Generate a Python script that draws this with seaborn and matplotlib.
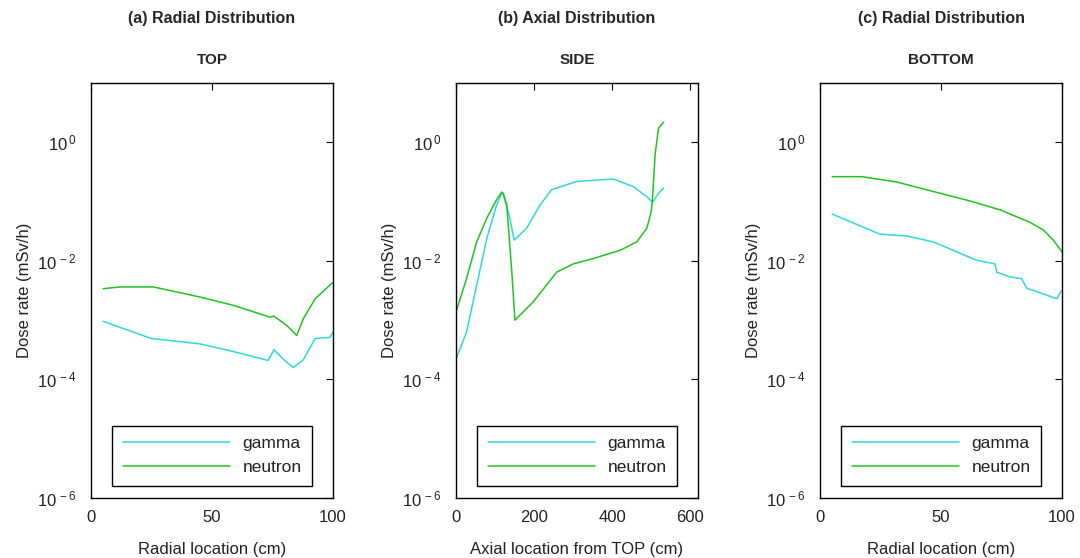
import numpy as np
import pandas as pd
import matplotlib
matplotlib.use("Agg")
import matplotlib.pyplot as plt
import seaborn as sns
from matplotlib.ticker import NullLocator, FixedLocator, FuncFormatter

sns.set_style("white")
plt.rcParams['font.family'] = ['Liberation Sans', 'DejaVu Sans']

# ---------------- data (log10 of dose rate) ----------------
top_gamma_x = [5, 25, 45, 58.8, 73.2, 75.6, 79.5, 83.6, 87.7, 92.6, 98.8, 100]
top_gamma_log = [-3.02, -3.31, -3.40, -3.53, -3.68, -3.50, -3.66, -3.80, -3.67, -3.31, -3.29, -3.20]
top_neutron_x = [5, 12, 25.8, 45, 58.8, 74, 75.5, 80.9, 85, 87.7, 92.6, 99.5, 100]
top_neutron_log = [-2.47, -2.44, -2.44, -2.61, -2.75, -2.95, -2.93, -3.09, -3.26, -2.98, -2.64, -2.38, -2.37]

side_gamma_x = [0, 27, 53, 79, 104, 117, 121, 138, 149, 181, 215, 245, 309, 403, 455, 489, 504, 519, 532]
side_gamma_log = [-3.66, -3.20, -2.41, -1.62, -1.06, -0.86, -0.87, -1.28, -1.65, -1.45, -1.06, -0.80, -0.66, -0.62, -0.75, -0.92, -1.01, -0.86, -0.77]
side_neutron_x = [0, 27, 53, 79, 104, 117, 121, 130, 143, 151, 198, 258, 301, 352, 421, 463, 489, 500, 503, 510, 519, 532]
side_neutron_log = [-2.86, -2.30, -1.68, -1.28, -0.97, -0.84, -0.86, -1.06, -2.19, -3.00, -2.69, -2.19, -2.05, -1.96, -1.82, -1.68, -1.45, -1.17, -1.00, -0.21, 0.24, 0.34]

bot_gamma_x = [5, 24.8, 35.8, 46.8, 64.7, 72.3, 73, 78.5, 83.3, 85.4, 90.9, 97.8, 99.5, 100]
bot_gamma_log = [-1.21, -1.55, -1.58, -1.68, -1.99, -2.05, -2.19, -2.27, -2.30, -2.46, -2.54, -2.64, -2.52, -2.50]
bot_neutron_x = [5, 17.2, 31.7, 46.8, 62, 74.4, 86.8, 92.3, 96.4, 99.5, 100]
bot_neutron_log = [-0.58, -0.58, -0.67, -0.83, -0.99, -1.14, -1.35, -1.48, -1.65, -1.82, -1.85]

titles1 = ["(a) Radial Distribution", "(b) Axial Distribution", "(c) Radial Distribution"]
titles2 = ["TOP", "SIDE", "BOTTOM"]
xlabels = ["Radial location (cm)", "Axial location from TOP (cm)", "Radial location (cm)"]
xticks = [[0, 50, 100], [0, 200, 400, 600], [0, 50, 100]]
xlim_list = [(0, 100), (0, 620), (0, 100)]
ytick_vals = [1e-6, 1e-4, 1e-2, 1e0]

panels = [
    (top_gamma_x, top_gamma_log, top_neutron_x, top_neutron_log),
    (side_gamma_x, side_gamma_log, side_neutron_x, side_neutron_log),
    (bot_gamma_x, bot_gamma_log, bot_neutron_x, bot_neutron_log),
]

colors = {"gamma": "#2fd9d9", "neutron": "#1fc41f"}


def logfmt(v, pos):
    e = int(round(np.log10(v)))
    return r"$\mathregular{10^{\,%s}}$" % ("-%d" % -e if e < 0 else "%d" % e)


fig = plt.figure(figsize=(10.8, 5.58), dpi=100)
lefts = [91 / 1080, 456 / 1080, 820 / 1080]
w = 242 / 1080
b = (558 - 498) / 558
h = 415 / 558

for i, (gx, gl, nx, nl) in enumerate(panels):
    ax = fig.add_axes([lefts[i], b, w, h])
    df = pd.concat([
        pd.DataFrame({"x": gx, "y": 10 ** np.array(gl), "series": "gamma"}),
        pd.DataFrame({"x": nx, "y": 10 ** np.array(nl), "series": "neutron"}),
    ])
    sns.lineplot(data=df, x="x", y="y", hue="series", palette=colors,
                 linewidth=1.1, ax=ax, sort=False, estimator=None)
    ax.set_yscale("log")
    ax.set_ylim(1e-6, 1e1)
    ax.set_xlim(*xlim_list[i])
    ax.yaxis.set_major_locator(FixedLocator(ytick_vals))
    ax.yaxis.set_major_formatter(FuncFormatter(logfmt))
    ax.yaxis.set_minor_locator(NullLocator())
    ax.set_xticks(xticks[i])
    ax.tick_params(direction="in", top=True, right=True, length=5, width=0.8,
                   labelsize=12, colors="black", labelcolor="#222222")
    ax.tick_params(axis="x", pad=9)
    ax.tick_params(axis="y", pad=10)
    for s in ax.spines.values():
        s.set_color("black")
        s.set_linewidth(1.0)
    ax.set_xlabel(xlabels[i], fontsize=12, color="#222222", labelpad=12)
    ax.set_ylabel("Dose rate (mSv/h)", fontsize=12, color="#222222", labelpad=4)
    ax.set_title(titles2[i], fontsize=11, fontweight="bold", pad=14)
    cx = lefts[i] + w / 2
    fig.text(cx, 1 - 18 / 558, titles1[i], ha="center", va="center",
             fontsize=11.5, fontweight="bold")
    leg = ax.legend(loc="lower center", bbox_to_anchor=(0.5, 0.03), fontsize=12.5,
                    handlelength=6.2, frameon=True, fancybox=False,
                    edgecolor="black", framealpha=1, borderpad=0.6,
                    labelspacing=0.5, handletextpad=0.7, borderaxespad=0, title=None)
    leg.get_frame().set_linewidth(1.0)
    for t in leg.get_texts():
        t.set_color("#222222")

fig.savefig("out.png", dpi=100)
